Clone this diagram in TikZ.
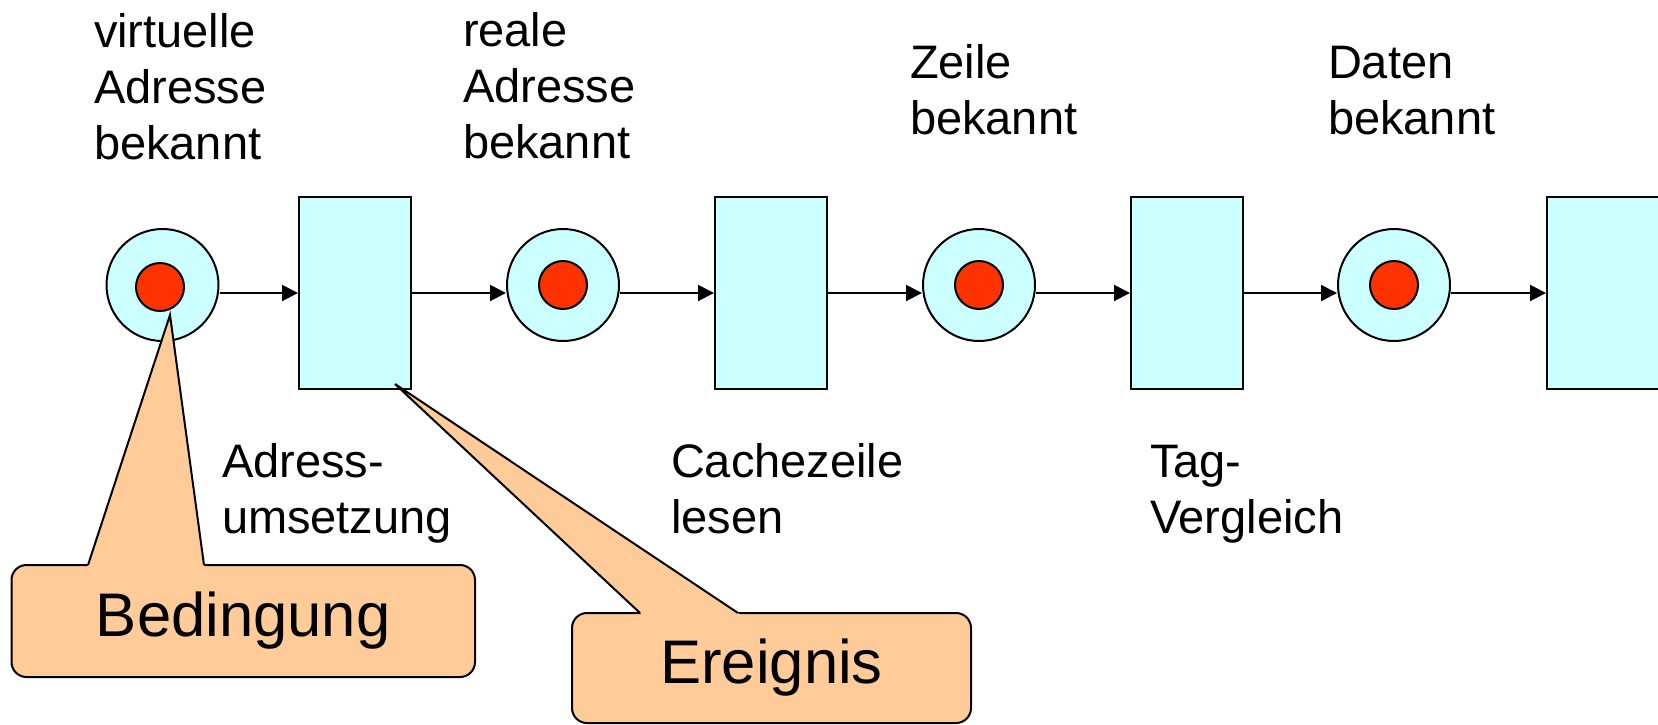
\documentclass[tikz,border=0pt]{standalone}
\usepackage{fontspec}
\setmainfont{Liberation Sans}
\usetikzlibrary{arrows.meta}
\definecolor{placecyan}{HTML}{CCFFFF}
\definecolor{tokenred}{HTML}{FF3300}
\definecolor{notepeach}{HTML}{FFCC99}

\begin{document}
\begin{tikzpicture}[x=0.5pt,y=-0.5pt,line width=1pt,
  place/.style={circle,draw,fill=placecyan,minimum size=56pt,inner sep=0pt},
  token/.style={circle,draw,fill=tokenred,minimum size=24pt,inner sep=0pt},
  transition/.style={rectangle,draw,fill=placecyan,minimum width=56pt,minimum height=96pt,inner sep=0pt},
  flow/.style={-{Triangle[length=8pt,width=8pt]}},
  lbl/.style={anchor=base west,align=left,inner sep=0pt,font=\fontsize{23.5}{28}\selectfont},
  notebox/.style={draw,fill=notepeach,rounded corners=7.5pt,inner sep=0pt,font=\fontsize{30.8}{36}\selectfont},
  pointerfill/.style={fill=notepeach,draw=none},
]
\useasboundingbox (0,0) rectangle (1658,724);

% places with tokens
\node[place] (p1) at (162.5,285) {};
\node[token] (k1) at (160,287) {};
\node[place] (p2) at (563,285) {};
\node[token] (k2) at (563,285) {};
\node[place] (p3) at (979,285) {};
\node[token] (k3) at (979,285) {};
\node[place] (p4) at (1394,285) {};
\node[token] (k4) at (1394,285) {};

% transitions
\node[transition] (t1) at (355,293) {};
\node[transition] (t2) at (771,293) {};
\node[transition] (t3) at (1187,293) {};
\node[transition] (t4) at (1603,293) {};

% arcs
\draw[flow] (p1.east |- t1.west) -- (t1.west);
\draw[flow] (t1.east) -- (t1.east -| p2.west);
\draw[flow] (p2.east |- t2.west) -- (t2.west);
\draw[flow] (t2.east) -- (t2.east -| p3.west);
\draw[flow] (p3.east |- t3.west) -- (t3.west);
\draw[flow] (t3.east) -- (t3.east -| p4.west);
\draw[flow] (p4.east |- t4.west) -- (t4.west);

% condition labels (anchored at the baseline of the last line)
\node[lbl] (l1) at (93,159) {virtuelle\\Adresse\\bekannt};
\node[lbl] (l2) at (462,158) {reale\\Adresse\\bekannt};
\node[lbl] (l3) at (909,134) {Zeile\\bekannt};
\node[lbl] (l4) at (1327,134) {Daten\\bekannt};

% event labels
\node[lbl] (e1) at (221,533) {Adress-\\umsetzung};
\node[lbl] (e2) at (670,533) {Cachezeile\\lesen};
\node[lbl] (e3) at (1149,533) {Tag-\\Vergleich};

% callout: Bedingung
\node[notebox,minimum width=231.75pt,minimum height=56pt] (bed) at (243.25,621) {Bedingung};
\coordinate (btip) at (170,315);
\coordinate (bl) at (88,565);
\coordinate (br) at (204,565);
\fill[pointerfill] (87,568) -- (btip) -- (204.4,568) -- cycle;
\draw (bl) -- (btip) -- (br);

% callout: Ereignis
\node[notebox,minimum width=199.5pt,minimum height=55pt] (ere) at (771.5,668) {Ereignis};
\coordinate (etip) at (395,384);
\coordinate (el) at (640,613);
\coordinate (er) at (738,613);
\fill[pointerfill] (643.2,616) -- (etip) -- (742.5,616) -- cycle;
\draw (el) -- (etip) -- (er);
\end{tikzpicture}
\end{document}
